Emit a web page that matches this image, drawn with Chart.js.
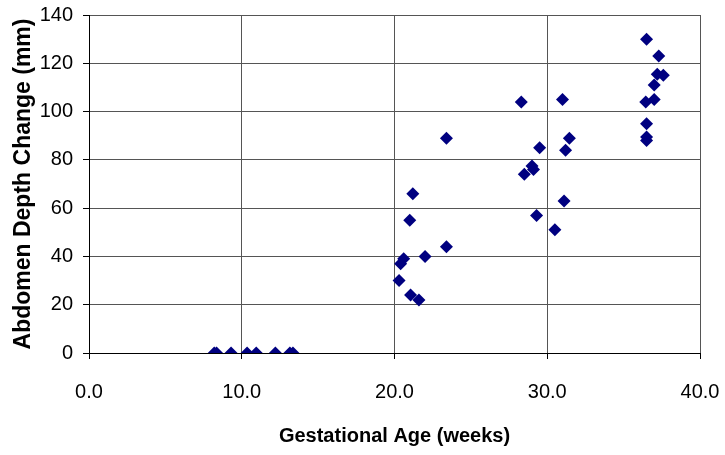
<!DOCTYPE html>
<html>
<head>
<meta charset="utf-8">
<script src="https://cdn.jsdelivr.net/npm/chart.js@4"></script>
<style>
  html, body { margin: 0; padding: 0; background: #fff; }
  #wrap { width: 725px; height: 455px; }
</style>
</head>
<body>
<div id="wrap"><canvas id="chartAbd" width="725" height="455"></canvas></div>
<script>
// gestational age (weeks) and abdomen depth change (mm)
const ages = [
  8.2, 8.35, 9.3, 10.35, 10.95, 12.2, 13.15, 13.35,
  20.3, 20.4, 20.6, 21.0, 21.05, 21.2, 21.6, 22.0, 23.4, 23.4,
  28.3, 28.5, 29.0, 29.1, 29.3, 29.5, 30.5, 31.0, 31.1, 31.2, 31.45,
  36.45, 36.5, 36.5, 36.5, 36.5, 37.0, 37.0, 37.2, 37.3, 37.6
];
const depths = [
  0, 0, 0, 0, 0, 0, 0, 0,
  30, 37, 39, 55, 24, 66, 22, 40, 44, 89,
  104, 74, 77.5, 76, 57, 85, 51, 105, 63, 84, 89,
  104, 130, 95, 89.5, 88, 111, 105, 115.5, 123, 115
];
const xTicks = [0, 10, 20, 30, 40];
const yTicks = [0, 20, 40, 60, 80, 100, 120, 140];

const points = ages.map((a, i) => ({ x: a, y: depths[i] }));

const ctx = document.getElementById("chartAbd").getContext("2d");

new Chart(ctx, {
  type: "scatter",
  data: {
    datasets: [
      {
        label: "Abdomen depth",
        data: points,
        pointStyle: "rectRot",
        pointRadius: 6.5,
        pointHoverRadius: 6.5,
        backgroundColor: "#000080",
        borderColor: "#000080",
        borderWidth: 0
      }
    ]
  },
  options: {
    responsive: false,
    animation: false,
    layout: { padding: { top: 15, right: 25, left: 0, bottom: 0 } },
    plugins: {
      legend: { display: false },
      tooltip: { enabled: false }
    },
    scales: {
      x: {
        type: "linear",
        min: xTicks[0],
        max: xTicks[xTicks.length - 1],
        afterBuildTicks: (s) => { s.ticks = xTicks.map(v => ({ value: v })); },
        afterFit: (s) => {
          s.height = 102;
          s.paddingLeft = 0;
          s.paddingRight = 0;
        },
        ticks: {
          color: "#000",
          padding: 21,
          font: { family: "'Liberation Sans', Arial, sans-serif", size: 20 },
          callback: (v) => Number(v).toFixed(1)
        },
        grid: { color: "#555", lineWidth: 1, tickLength: 6, tickColor: "#000" },
        border: { color: "#000", width: 1 },
        title: {
          display: true,
          text: "Gestational Age (weeks)",
          color: "#000",
          padding: { top: 0, bottom: 7 },
          font: { family: "'Liberation Sans', Arial, sans-serif", size: 20, weight: "bold" }
        }
      },
      y: {
        min: yTicks[0],
        max: yTicks[yTicks.length - 1],
        afterBuildTicks: (s) => { s.ticks = yTicks.map(v => ({ value: v })); },
        afterFit: (s) => {
          s.width = 89;
          s.paddingTop = 0;
          s.paddingBottom = 0;
        },
        ticks: {
          color: "#000",
          padding: 10,
          font: { family: "'Liberation Sans', Arial, sans-serif", size: 20 }
        },
        grid: { color: "#555", lineWidth: 1, tickLength: 6, tickColor: "#000" },
        border: { color: "#000", width: 1 },
        title: {
          display: true,
          text: "Abdomen Depth Change (mm)",
          color: "#000",
          padding: { top: 10, bottom: 0 },
          font: { family: "'Liberation Sans', Arial, sans-serif", size: 23, weight: "bold" }
        }
      }
    }
  }
});
</script>
</body>
</html>
